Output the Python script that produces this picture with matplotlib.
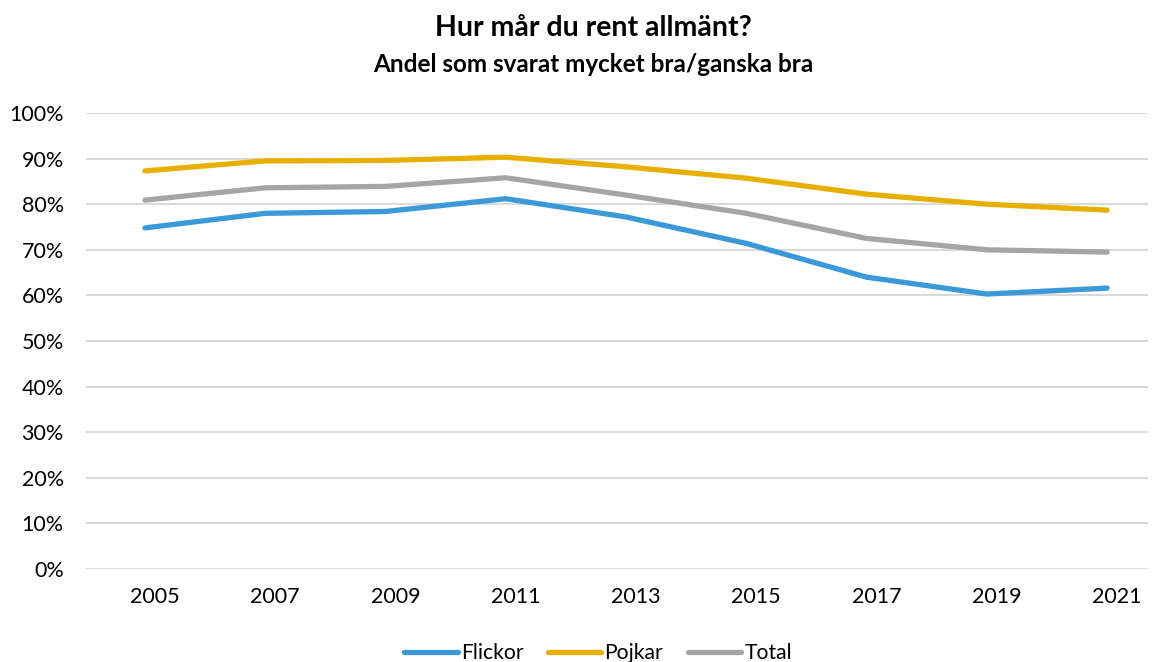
import matplotlib
matplotlib.use("Agg")
import matplotlib.pyplot as plt
from matplotlib.transforms import ScaledTranslation
from matplotlib.lines import Line2D

years = ["2005", "2007", "2009", "2011", "2013", "2015", "2017", "2019", "2021"]
flickor = [74.8, 78.0, 78.4, 81.2, 77.2, 71.4, 64.0, 60.3, 61.6]
pojkar = [87.3, 89.5, 89.6, 90.3, 88.2, 85.7, 82.2, 80.0, 78.7]
total = [80.9, 83.6, 83.9, 85.8, 82.0, 78.0, 72.5, 70.0, 69.5]
series_names = ["Flickor", "Pojkar", "Total"]
yticks = [0, 10, 20, 30, 40, 50, 60, 70, 80, 90, 100]

colors = ["#3A99D8", "#E8AF00", "#A5A5A5"]

plt.rcParams['font.family'] = ['Lato', 'DejaVu Sans']

fig = plt.figure(figsize=(11.54, 6.62), dpi=100)
ax = fig.add_axes([86/1154, 1-569/662, (1148-86)/1154, (569-113)/662])

x = list(range(len(years)))
for vals, c, name in zip([flickor, pojkar, total], colors, series_names):
    ax.plot(x, vals, color=c, lw=3.8, solid_capstyle='round', solid_joinstyle='round', label=name, zorder=3)

ax.set_ylim(0, 100)
ax.set_xlim(-0.49, 8.34)
ax.set_yticks(yticks)
ax.set_yticklabels([f"{v}%" for v in yticks], fontsize=15.5, color="#000000")
ax.set_xticks(x)
ax.set_xticklabels(years, fontsize=15.5, color="#000000")
ax.tick_params(axis='both', length=0)
ax.tick_params(axis='y', pad=16)
ax.tick_params(axis='x', pad=13)
for lab in ax.get_xticklabels():
    lab.set_transform(lab.get_transform() + ScaledTranslation(10/100, 0, fig.dpi_scale_trans))

ax.grid(axis='y', color="#D9D9D9", lw=1.4, zorder=0)
ax.set_axisbelow(True)
for s in ax.spines.values():
    s.set_visible(False)

fig.text(593/1154, 1-28/662, "Hur mår du rent allmänt?", ha='center', va='center',
         fontsize=20.5, fontweight='bold')
fig.text(593/1154, 1-64/662, "Andel som svarat mycket bra/ganska bra", ha='center', va='center',
         fontsize=17.5, fontweight='bold')

handles = [Line2D([0], [0], color=c, lw=3.8, solid_capstyle='round') for c in colors]
fig.legend(handles, series_names, loc='center', bbox_to_anchor=(598/1154, 1-653/662),
           ncol=3, frameon=False, fontsize=15.2, handlelength=2.55, handletextpad=0.15,
           columnspacing=1.15)

fig.savefig("out.png", dpi=100)
